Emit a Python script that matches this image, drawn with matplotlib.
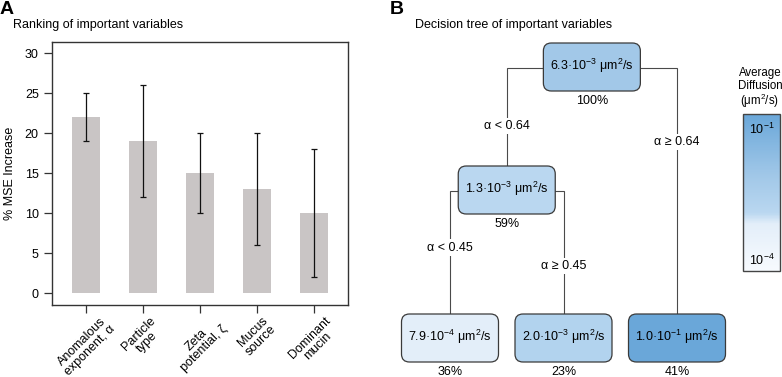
import math
import numpy as np
import matplotlib
matplotlib.use("Agg")
import matplotlib.pyplot as plt
from matplotlib.colors import LogNorm, LinearSegmentedColormap
from matplotlib.patches import FancyBboxPatch
from matplotlib.colorbar import ColorbarBase

plt.rcParams['font.family'] = ['Liberation Sans', 'DejaVu Sans']
plt.rcParams['mathtext.fontset'] = 'custom'
plt.rcParams['mathtext.rm'] = 'Liberation Sans'
plt.rcParams['mathtext.it'] = 'Liberation Sans:italic'
plt.rcParams['mathtext.bf'] = 'Liberation Sans:bold'

# panel A data
variables = ["Anomalous\nexponent, α", "Particle\ntype", "Zeta\npotential, ζ",
             "Mucus\nsource", "Dominant\nmucin"]
mse_increase = [22, 19, 15, 13, 10]
err_low = [19, 12, 10, 6, 2]
err_high = [25, 26, 20, 20, 18]

# panel B data (rpart tree)
node_values = [6.3e-3, 1.3e-3, 7.9e-4, 2.0e-3, 1.0e-1]
node_percent = [100, 59, 36, 23, 41]
node_children = {0: (1, 4), 1: (2, 3)}
split_labels = {(0, 1): "α < 0.64", (0, 4): "α ≥ 0.64",
                (1, 2): "α < 0.45", (1, 3): "α ≥ 0.45"}
leaf_order = [2, 3, 4]

W, H = 782, 377
FS = 9
fig = plt.figure(figsize=(W / 100, H / 100), dpi=100)

# ---------------- panel A ----------------
ax = fig.add_axes([52 / W, (H - 305) / H, 296 / W, 263 / H])
x = np.arange(len(variables))
ax.bar(x, mse_increase, width=0.49, color="#c9c5c5", zorder=1)
yerr = [np.array(mse_increase) - np.array(err_low), np.array(err_high) - np.array(mse_increase)]
ax.errorbar(x, mse_increase, yerr=yerr, fmt="none", ecolor="#111111",
            elinewidth=0.9, capsize=2.3, capthick=0.9, zorder=2)
ax.set_xlim(-0.6, 4.6)
ax.set_ylim(-1.5, 31.4)
ax.set_yticks([0, 5, 10, 15, 20, 25, 30])
ax.set_xticks(x)
ax.set_xticklabels(variables, rotation=45, ha="center", va="top",
                   multialignment="center", fontsize=9.5, linespacing=0.95)
ax.tick_params(axis="both", direction="out", length=5.5, width=0.9,
               color="#333333", labelsize=FS)
ax.tick_params(axis="x", pad=1.5)
ax.tick_params(axis="y", pad=4)
for s in ax.spines.values():
    s.set_color("#333333")
    s.set_linewidth(1.0)
ax.set_ylabel("% MSE Increase", fontsize=FS, labelpad=6)
fig.text(0 / W, 1 - 9 / H, "A", fontsize=14, fontweight="bold", va="center", ha="left")
fig.text(13 / W, 1 - 25 / H, "Ranking of important variables", fontsize=FS, va="center")

# ---------------- panel B ----------------
fig.text(390 / W, 1 - 9 / H, "B", fontsize=14, fontweight="bold", va="center", ha="left")
fig.text(415 / W, 1 - 25 / H, "Decision tree of important variables", fontsize=FS, va="center")

axb = fig.add_axes([0, 0, 1, 1])
axb.set_xlim(0, W)
axb.set_ylim(H, 0)
axb.axis("off")
axb.patch.set_visible(False)

cmap = LinearSegmentedColormap.from_list(
    "diff", [(0, "#f7fafe"), (0.3, "#e3eef9"), (0.37, "#bad7f0"), (0.43, "#b3d3ee"),
             (0.6, "#a2c8e8"), (1.0, "#6aa7d9")])
norm = LogNorm(vmin=1e-4, vmax=1e-1)

# layout
leaf_x0, leaf_dx = 450, 113.5
level_y = {0: 67, 1: 190, 2: 338}
box_w, box_h = 97, 48
node_x, node_depth = {}, {0: 0}
for i, n in enumerate(leaf_order):
    node_x[n] = leaf_x0 + i * leaf_dx


def place(n):
    if n in node_children:
        for c in node_children[n]:
            node_depth[c] = node_depth[n] + 1
            place(c)
        node_x[n] = np.mean([node_x[c] for c in node_children[n]])


place(0)


def node_y(n):
    return level_y[2] if n not in node_children else level_y[node_depth[n]]


label_frac = {(0, 1): 0.59, (0, 4): 0.3, (1, 2): 0.46, (1, 3): 0.61}

for p, (cl, cr) in node_children.items():
    px, py = node_x[p], node_y(p)
    for c, side in ((cl, -1), (cr, 1)):
        cx, cy = node_x[c], node_y(c)
        ys = py + 1
        axb.plot([px + side * box_w / 2, cx, cx], [ys, ys, cy - box_h / 2],
                 color="#4a4a4a", lw=0.8, zorder=1, solid_joinstyle="miter")
        ly = ys + label_frac[(p, c)] * (cy - box_h / 2 - ys)
        axb.text(cx, ly, split_labels[(p, c)], ha="center", va="center", fontsize=FS,
                 bbox=dict(facecolor="white", edgecolor="none", pad=1.5), zorder=2)

for n, v in enumerate(node_values):
    cx, cy = node_x[n], node_y(n)
    box = FancyBboxPatch((cx - box_w / 2, cy - box_h / 2), box_w, box_h,
                         boxstyle="round,pad=0,rounding_size=8",
                         facecolor=cmap(norm(v)), edgecolor="#3a3a3a", lw=0.9, zorder=3)
    axb.add_patch(box)
    e = math.floor(math.log10(v))
    m = v / 10 ** e
    axb.text(cx, cy - 1, f"{m:.1f}·10$^{{{e}}}$ μm$^{{2}}$/s", ha="center", va="center",
             fontsize=FS, zorder=4)
    axb.text(cx, cy + box_h / 2 + 10, f"{node_percent[n]}%", ha="center", va="center",
             fontsize=FS, zorder=4)

# colorbar
cb_top, cb_bot = 114, 271
cax = fig.add_axes([743 / W, (H - cb_bot) / H, 37 / W, (cb_bot - cb_top) / H])
cb = ColorbarBase(cax, cmap=cmap, norm=norm, orientation="vertical")
cb.set_ticks([])
cb.minorticks_off()
cb.outline.set_edgecolor("#444444")
cb.outline.set_linewidth(1.0)
cax.text(0.5, 0.9, "10$^{-1}$", transform=cax.transAxes, ha="center", va="center", fontsize=FS)
cax.text(0.5, 0.07, "10$^{-4}$", transform=cax.transAxes, ha="center", va="center", fontsize=FS)
for txt, yy in (("Average", 73), ("Diffusion", 86), ("(μm$^{2}$/s)", 101)):
    fig.text(760 / W, 1 - yy / H, txt, ha="center", va="center", fontsize=8.3)

fig.savefig("out.png", dpi=100)
